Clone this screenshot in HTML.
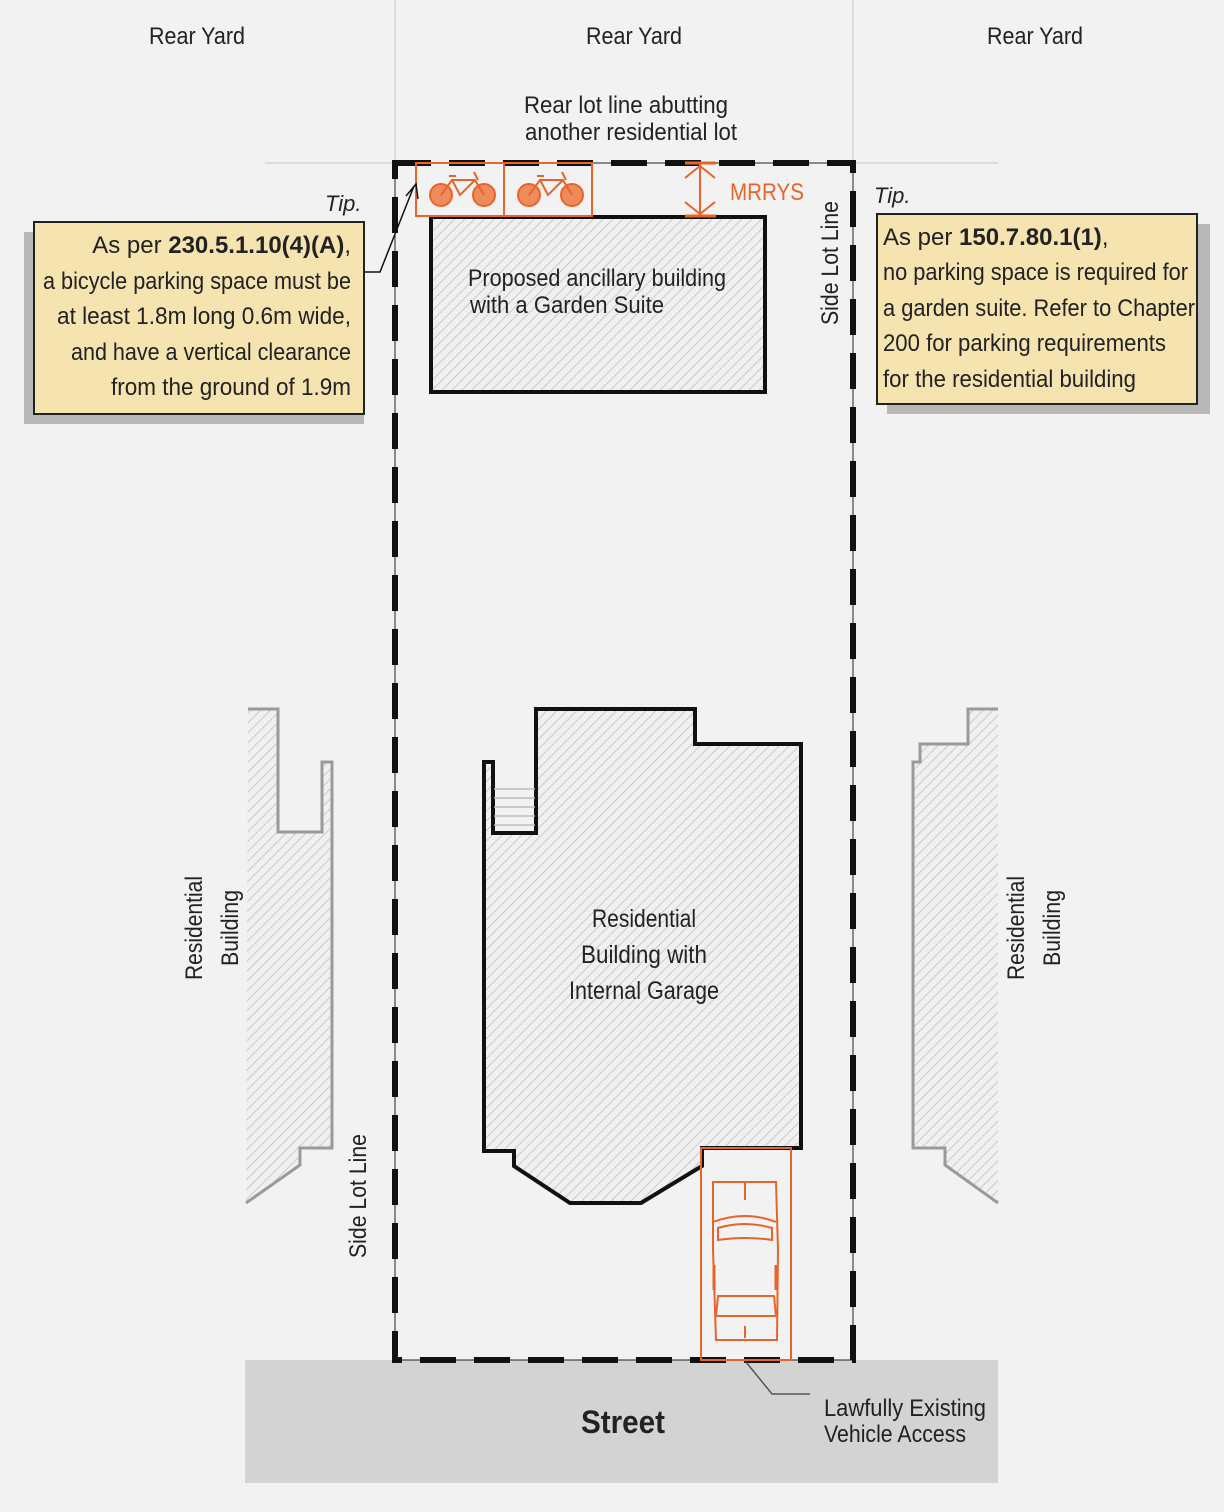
<!DOCTYPE html>
<html><head><meta charset="utf-8"><style>
html,body{margin:0;padding:0;background:#f2f2f2;}
svg{display:block;}
text{font-family:"Liberation Sans Narrow","Liberation Sans",sans-serif;fill:#222;}
</style></head><body>
<svg width="1224" height="1512" viewBox="0 0 1224 1512" xmlns="http://www.w3.org/2000/svg">
<defs>
<pattern id="h" width="7" height="7" patternUnits="userSpaceOnUse" patternTransform="rotate(45)">
<rect width="7" height="7" fill="#f0f0f0"/><line x1="0" y1="0" x2="0" y2="7" stroke="#bdbdbd" stroke-width="1.5"/>
</pattern>
</defs>
<rect width="1224" height="1512" fill="#f2f2f2"/>
<rect x="245" y="1360" width="753" height="123" fill="#d3d3d3"/>
<text x="623" y="1433" font-size="32" font-weight="bold" text-anchor="middle" textLength="84" lengthAdjust="spacingAndGlyphs">Street</text>
<g stroke="#c4c4c4" stroke-width="1">
<line x1="395" y1="0" x2="395" y2="163"/><line x1="853" y1="0" x2="853" y2="163"/>
<line x1="265" y1="163" x2="998" y2="163"/>
</g>
<g font-size="24" text-anchor="middle">
<text x="197" y="44" textLength="96" lengthAdjust="spacingAndGlyphs">Rear Yard</text>
<text x="634" y="44" textLength="96" lengthAdjust="spacingAndGlyphs">Rear Yard</text>
<text x="1035" y="44" textLength="96" lengthAdjust="spacingAndGlyphs">Rear Yard</text>
<text x="626" y="113" textLength="204" lengthAdjust="spacingAndGlyphs">Rear lot line abutting</text>
<text x="631" y="140" textLength="212" lengthAdjust="spacingAndGlyphs">another residential lot</text>
</g>
<path d="M248,709 H278 V832 H322 V762 H332 V1148 H300 V1165 L246,1203 Z" fill="url(#h)" stroke="none"/>
<path d="M248,709 H278 V832 H322 V762 H332 V1148 H300 V1165 L246,1203" fill="none" stroke="#9a9a9a" stroke-width="3"/>
<path d="M998,709 H968 V744 H920 V762 H913 V1148 H945 V1165 L998,1203 Z" fill="url(#h)" stroke="none"/>
<path d="M998,709 H968 V744 H920 V762 H913 V1148 H945 V1165 L998,1203" fill="none" stroke="#9a9a9a" stroke-width="3"/>
<g font-size="24" text-anchor="middle">
<text transform="translate(202,928) rotate(-90)" textLength="104" lengthAdjust="spacingAndGlyphs">Residential</text>
<text transform="translate(238,928) rotate(-90)" textLength="76" lengthAdjust="spacingAndGlyphs">Building</text>
<text transform="translate(1024,928) rotate(-90)" textLength="104" lengthAdjust="spacingAndGlyphs">Residential</text>
<text transform="translate(1060,928) rotate(-90)" textLength="76" lengthAdjust="spacingAndGlyphs">Building</text>
<text transform="translate(366,1196) rotate(-90)" textLength="124" lengthAdjust="spacingAndGlyphs">Side Lot Line</text>
<text transform="translate(838,263) rotate(-90)" textLength="124" lengthAdjust="spacingAndGlyphs">Side Lot Line</text>
</g>
<rect x="431" y="217" width="334" height="175" fill="url(#h)" stroke="#111" stroke-width="4"/>
<text x="597" y="286" font-size="24" text-anchor="middle" textLength="258" lengthAdjust="spacingAndGlyphs">Proposed ancillary building</text>
<text x="567" y="313" font-size="24" text-anchor="middle" textLength="194" lengthAdjust="spacingAndGlyphs">with a Garden Suite</text>
<path d="M484,762 H493 V833 H536 V709 H695 V744 H801 V1148 H702 V1166 L641,1203 H570 L514,1166 V1151 H484 Z" fill="url(#h)" stroke="#111" stroke-width="4"/>
<g stroke="#bbb" stroke-width="1.5"><line x1="494" y1="789" x2="535" y2="789"/><line x1="494" y1="798" x2="535" y2="798"/><line x1="494" y1="807" x2="535" y2="807"/><line x1="494" y1="816" x2="535" y2="816"/><line x1="494" y1="825" x2="535" y2="825"/></g>
<g font-size="25" text-anchor="middle">
<text x="644" y="927" textLength="104" lengthAdjust="spacingAndGlyphs">Residential</text>
<text x="644" y="963" textLength="126" lengthAdjust="spacingAndGlyphs">Building with</text>
<text x="644" y="999" textLength="150" lengthAdjust="spacingAndGlyphs">Internal Garage</text>
</g>
<g fill="none">
<rect x="395" y="163" width="458" height="1197" stroke="#222" stroke-width="1"/>
<rect x="395" y="163" width="458" height="1197" stroke="#111" stroke-width="6" stroke-dasharray="36 18"/>
</g>
<g stroke="#e8642a" fill="none" stroke-width="2">
<rect x="416" y="163" width="88" height="53"/>
<rect x="504" y="163" width="88" height="53"/>
<line x1="700" y1="163" x2="700" y2="216"/>
<line x1="685" y1="163" x2="716" y2="163" stroke-width="3"/><line x1="685" y1="216" x2="716" y2="216" stroke-width="3"/>
<polyline points="685,178 700,166 715,178"/><polyline points="685,202 700,214 715,202"/>
</g>
<g stroke="#e8642a" stroke-width="2" fill="none">
<circle cx="441" cy="195" r="11" fill="#ef8a5a"/><circle cx="484" cy="195" r="11" fill="#ef8a5a"/>
<circle cx="529" cy="195" r="11" fill="#ef8a5a"/><circle cx="572" cy="195" r="11" fill="#ef8a5a"/>
<polyline points="441,195 452,180 475,180 484,195"/><polyline points="452,180 460,195 475,180"/>
<polyline points="529,195 540,180 563,180 572,195"/><polyline points="540,180 548,195 563,180"/>
<line x1="449" y1="176" x2="456" y2="176"/><line x1="474" y1="172" x2="478" y2="180"/>
<line x1="537" y1="176" x2="544" y2="176"/><line x1="562" y1="172" x2="566" y2="180"/>
</g>
<text x="730" y="200" font-size="24" style="fill:#e8642a" textLength="74" lengthAdjust="spacingAndGlyphs">MRRYS</text>
<g stroke="#e8642a" fill="none" stroke-width="2">
<rect x="701" y="1148" width="90" height="212"/>
<path d="M713,1182 L776,1182 L778,1250 L777,1340 L716,1340 L713,1250 Z"/>
<path d="M713,1222 Q745,1210 776,1222"/>
<path d="M718,1228 Q745,1220 772,1228 L772,1240 Q745,1236 718,1240 Z"/>
<path d="M718,1296 L774,1296 L776,1316 L716,1316 Z"/>
<line x1="745" y1="1182" x2="745" y2="1200"/><line x1="745" y1="1326" x2="745" y2="1338"/>
<line x1="714" y1="1265" x2="714" y2="1290" stroke-width="3"/><line x1="776" y1="1265" x2="776" y2="1290" stroke-width="3"/>
</g>
<polyline points="364,272 380,272 414,186" fill="none" stroke="#111" stroke-width="1.5"/>
<polyline points="406,196 416,184 418,199" fill="none" stroke="#111" stroke-width="1.5"/>
<polyline points="746,1362 772,1394 810,1394" fill="none" stroke="#555" stroke-width="1.5"/>
<g font-size="24">
<text x="824" y="1416" textLength="162" lengthAdjust="spacingAndGlyphs">Lawfully Existing</text>
<text x="824" y="1442" textLength="142" lengthAdjust="spacingAndGlyphs">Vehicle Access</text>
</g>
<text x="325" y="211" font-size="22" font-style="italic">Tip.</text>
<rect x="24" y="232" width="340" height="192" fill="#b8b8b8"/>
<rect x="34" y="222" width="330" height="192" fill="#f5e3b0" stroke="#222" stroke-width="2"/>
<g font-size="24" text-anchor="end">
<text x="351" y="253">As per <tspan font-weight="bold">230.5.1.10(4)(A)</tspan>,</text>
<text x="351" y="289" textLength="308" lengthAdjust="spacingAndGlyphs">a bicycle parking space must be</text>
<text x="351" y="324" textLength="294" lengthAdjust="spacingAndGlyphs">at least 1.8m long 0.6m wide,</text>
<text x="351" y="360" textLength="280" lengthAdjust="spacingAndGlyphs">and have a vertical clearance</text>
<text x="351" y="395" textLength="240" lengthAdjust="spacingAndGlyphs">from the ground of 1.9m</text>
</g>
<text x="874" y="203" font-size="22" font-style="italic">Tip.</text>
<rect x="887" y="224" width="323" height="190" fill="#b8b8b8"/>
<rect x="877" y="214" width="320" height="190" fill="#f5e3b0" stroke="#222" stroke-width="2"/>
<g font-size="24">
<text x="883" y="245">As per <tspan font-weight="bold">150.7.80.1(1)</tspan>,</text>
<text x="883" y="280" textLength="305" lengthAdjust="spacingAndGlyphs">no parking space is required for</text>
<text x="883" y="316" textLength="312" lengthAdjust="spacingAndGlyphs">a garden suite. Refer to Chapter</text>
<text x="883" y="351" textLength="283" lengthAdjust="spacingAndGlyphs">200 for parking requirements</text>
<text x="883" y="387" textLength="253" lengthAdjust="spacingAndGlyphs">for the residential building</text>
</g>
</svg>
</body></html>
